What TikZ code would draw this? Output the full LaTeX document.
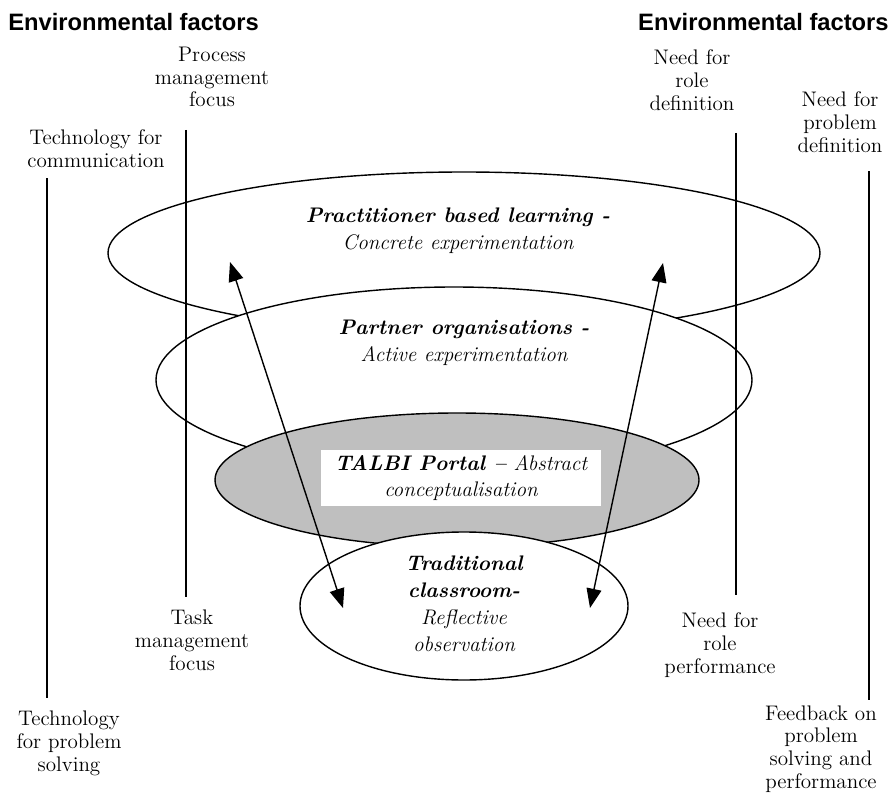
\documentclass[tikz,border=0pt]{standalone}
\usepackage{fontspec}
\newfontfamily\headfont{Liberation Sans}
\usetikzlibrary{shapes.geometric,arrows.meta,positioning}

\begin{document}
\begin{tikzpicture}[
    x=0.02cm, y=-0.02cm,
    stage/.style 2 args={ellipse, draw, line width=0.8pt, fill=white, inner sep=0pt,
        minimum width=#1*0.02cm, minimum height=#2*0.02cm},
    stagetext/.style={align=center, inner sep=0pt, font=\fontsize{12}{15.3}\selectfont\itshape},
    factor/.style={align=center, inner sep=0pt, font=\fontsize{12}{13}\selectfont},
    head/.style={inner sep=0pt, font=\headfont\bfseries\fontsize{13.5}{15}\selectfont},
    fline/.style={line width=0.8pt},
    arr/.style={{Triangle[length=11pt,width=8.5pt]}-{Triangle[length=11pt,width=8.5pt]}, line width=0.8pt}
]
\useasboundingbox (0,0) rectangle (896,794);

% the four learning stages, drawn from the top down
\node[stage={712}{162}] (pbl) at (464,253) {};
\node[stage={596}{186}] (po) at (454,380) {};
\node[stage={484}{134}, fill=black!25] (talbi) at (457,480) {};
\node[stage={328}{148}] (tc) at (464,606) {};

\node[stagetext] (pbltext) at (458,231) {\textbf{Practitioner based learning -}\\Concrete experimentation};
\node[stagetext] (potext) at (464,343) {\textbf{Partner organisations -}\\Active experimentation};
\node[stagetext, fill=white, minimum width=280*0.02cm, minimum height=56*0.02cm] (talbitext) at (461,478)
    {\textbf{TALBI Portal --} Abstract\\conceptualisation};
\node[stagetext] (tctext) at (464,604) {\textbf{Traditional}\\\textbf{classroom-}\\Reflective\\observation};

% headings
\node[head, anchor=west] (headl) at (8,22) {Environmental factors};
\node[head, anchor=east] (headr) at (889,22) {Environmental factors};

% factor labels
\node[factor] (proc) at (212,77) {Process\\management\\focus};
\node[factor] (techc) at (96,149) {Technology for\\communication};
\node[factor] (task) at (192,640) {Task\\management\\focus};
\node[factor] (techp) at (69,743) {Technology\\for problem\\solving};
\node[factor] (roledef) at (692,80) {Need for\\role\\definition};
\node[factor] (probdef) at (840,122) {Need for\\problem\\definition};
\node[factor] (roleperf) at (720,645) {Need for\\role\\performance};
\node[factor] (feedback) at (821,749) {Feedback on\\problem\\solving and\\performance};

% factor axes
\coordinate (techtop) at (47,178);
\coordinate (techbot) at (47,698);
\coordinate (proctop) at (186,130);
\coordinate (procbot) at (186,597);
\coordinate (roletop) at (736,133);
\coordinate (rolebot) at (736,595);
\coordinate (probtop) at (869,171);
\coordinate (probbot) at (869,700);
\draw[fline] (techtop) -- (techbot);
\draw[fline] (proctop) -- (procbot);
\draw[fline] (roletop) -- (rolebot);
\draw[fline] (probtop) -- (probbot);

% links between practice and classroom
\coordinate (ltop) at (230,262);
\coordinate (lbot) at (343,608);
\coordinate (rtop) at (663,263);
\coordinate (rbot) at (590,608);
\draw[arr] (ltop) -- (lbot);
\draw[arr] (rtop) -- (rbot);
\end{tikzpicture}
\end{document}
